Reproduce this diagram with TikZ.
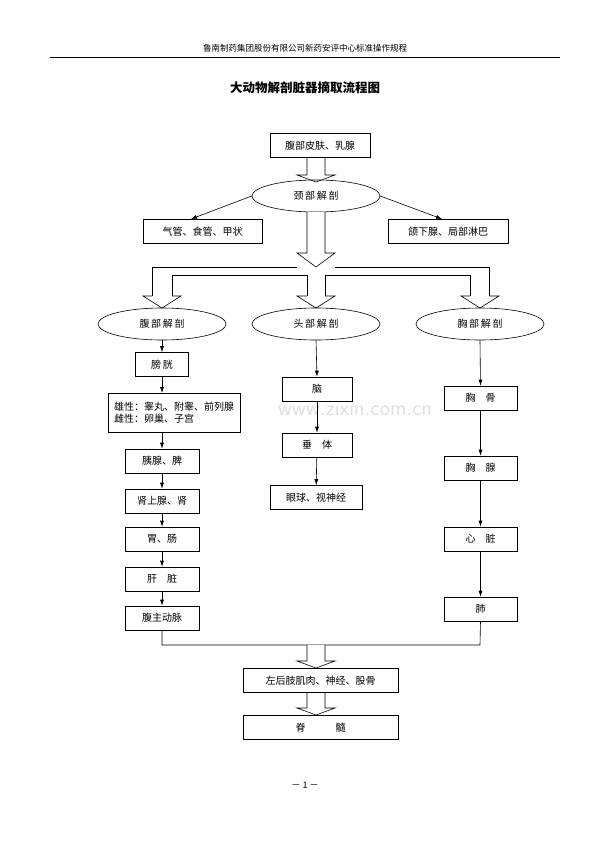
\documentclass[tikz,border=0pt]{standalone}
\usepackage{fontspec}
\setmainfont{Liberation Serif}
\newfontfamily\cjk{Noto Sans CJK SC}
\usetikzlibrary{shapes.geometric,arrows.meta}
\tikzset{
  bx/.style={draw,line width=0.6pt,minimum height=24pt,inner sep=0pt,font=\cjk\fontsize{10}{12}\selectfont},
  ov/.style={draw,ellipse,line width=0.6pt,minimum width=128pt,minimum height=32pt,inner sep=0pt,font=\cjk\fontsize{10}{12}\selectfont},
  ar/.style={line width=0.6pt,-{Latex[length=6pt,width=4pt]}},
  hol/.style={draw,line width=0.6pt,fill=white}
}
\newcommand\holarrow[4]{% x, ytop, yneck, ytip
  \draw[hol] (#1-9,#2)--(#1-9,#3)--(#1-19,#3)--(#1,#4)--(#1+19,#3)--(#1+9,#3)--(#1+9,#2);}
\begin{document}
\begin{tikzpicture}[x=1pt,y=-1pt]
\useasboundingbox (0,0) rectangle (600,849);
\node[font=\cjk\fontsize{8.5}{10}\selectfont] (hdr) at (305,48) {鲁南制药集团股份有限公司新药安评中心标准操作规程};
\draw[line width=0.5pt] (50,57) -- (560,57);
\node[font=\cjk\bfseries\fontsize{12.5}{14}\selectfont] (title) at (305,88) {大动物解剖脏器摘取流程图};
\node[font=\sffamily\fontsize{22}{24}\selectfont,text=black!12] (wm) at (355,408) {www.zixin.com.cn};

\node[bx,minimum width=100pt] (skin) at (320,145.5) {腹部皮肤、乳腺};
\holarrow{316}{158}{175}{182}
\node[ov] (neck) at (316,196) {颈\,部\,解\,剖};
\node[bx,minimum width=119pt] (trach) at (202.5,231.5) {气管、食管、甲状};
\node[bx,minimum width=120pt] (jaw) at (448,231.5) {颌下腺、局部淋巴};
\draw[ar] (neck.west) -- (191,219);
\draw[ar] (neck.east) -- (442,219);
% big hollow branching arrow
\draw[hol] (307,212)--(307,253)--(297,253)--(316,267)--(335,253)--(325,253)--(325,212);
\draw[line width=0.6pt] (152,300)--(152,267)--(297,267);
\draw[line width=0.6pt] (335,267)--(489,267)--(489,300);
\draw[line width=0.6pt] (172,300)--(172,275)--(307,275);
\draw[line width=0.6pt] (325,275)--(470,275)--(470,300);
\draw[line width=0.6pt] (307,275)--(307,296) (325,275)--(325,296);
\draw[hol] (152,296)--(143,296)--(162,308)--(181,296)--(172,296);
\draw[hol] (307,296)--(297,296)--(316,308)--(335,296)--(325,296);
\draw[hol] (470,296)--(461,296)--(480,308)--(499,296)--(489,296);

\node[ov] (abd) at (162,324) {腹\,部\,解\,剖};
\node[ov] (head) at (316,324) {头\,部\,解\,剖};
\node[ov] (chest) at (480,324) {胸\,部\,解\,剖};

% left column
\node[bx,minimum width=53pt] (bl) at (162,364.5) {膀\,胱};
\node[bx,minimum width=132pt,minimum height=39pt,align=left] (sex) at (174,412.5) {雄性：睾丸、附睾、前列腺\\雌性：卵巢、子宫};
\node[bx,minimum width=74pt] (pan) at (162,461) {胰腺、脾};
\node[bx,minimum width=74pt] (adr) at (162,501) {肾上腺、肾};
\node[bx,minimum width=74pt] (sto) at (162,539) {胃、肠};
\node[bx,minimum width=74pt] (liv) at (162,579) {肝\quad 脏};
\node[bx,minimum width=74pt] (aor) at (162,618) {腹主动脉};
\draw[ar] (abd.south) -- (bl.north);
\draw[ar] (bl.south) -- (162,393);
\draw[ar] (162,432) -- (pan.north);
\draw[ar] (pan) -- (adr);
\draw[ar] (adr) -- (sto);
\draw[ar] (sto) -- (liv);
\draw[ar] (liv) -- (aor);

% middle column
\node[bx,minimum width=70pt] (brain) at (317,389) {脑};
\node[bx,minimum width=70pt] (pit) at (317,445) {垂\quad 体};
\node[bx,minimum width=92pt] (eye) at (316,497.5) {眼球、视神经};
\draw[ar] (head.south) -- (brain.north);
\draw[ar] (brain) -- (pit);
\draw[ar] (pit) -- (eye);

% right column
\node[bx,minimum width=73pt] (ster) at (480.5,398) {胸\quad 骨};
\node[bx,minimum width=73pt] (thy) at (480.5,468) {胸\quad 腺};
\node[bx,minimum width=73pt] (heart) at (480.5,539) {心\quad 脏};
\node[bx,minimum width=73pt] (lung) at (480.5,609) {肺};
\draw[ar] (chest.south) -- (ster.north);
\draw[ar] (ster) -- (thy);
\draw[ar] (thy) -- (heart);
\draw[ar] (heart) -- (lung);

% bottom
\coordinate (jl) at (162,645);
\coordinate (jr) at (480,645);
\draw[line width=0.6pt] (aor.south) -- (jl) -- (jr) -- (lung.south);
\node[bx,minimum width=155pt] (limb) at (320.5,680.5) {左后肢肌肉、神经、股骨};
\node[bx,minimum width=155pt] (spine) at (320.5,727.5) {脊\qquad\quad 髓};
\holarrow{316}{645}{661}{668}
\holarrow{316}{693}{708}{715}
\node[font=\cjk\fontsize{9}{10}\selectfont] (pg) at (305,785) {－ 1 －};
\end{tikzpicture}
\end{document}
